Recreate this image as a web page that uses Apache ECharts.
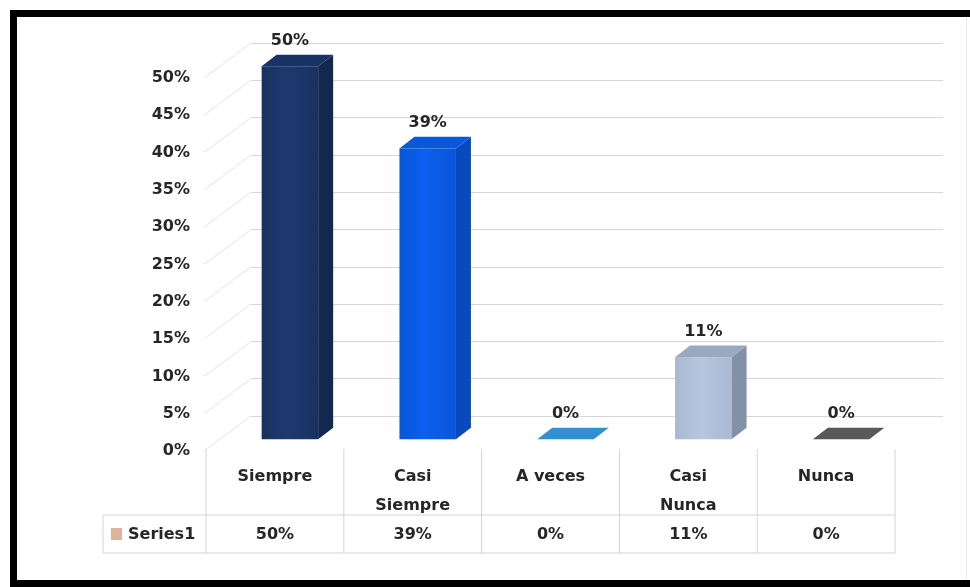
<!DOCTYPE html>
<html>
<head>
<meta charset="utf-8">
<script src="https://cdn.jsdelivr.net/npm/echarts@6/dist/echarts.min.js"></script>
<style>
  html, body { margin: 0; padding: 0; background: #fff; overflow: hidden; }
  #chart { width: 970px; height: 587px; }
</style>
</head>
<body>
<div id="chart"></div>
<script>
// Survey answer shares, in percent
const categories = ['Siempre', 'Casi\nSiempre', 'A veces', 'Casi\nNunca', 'Nunca'];
const values = [50, 39, 0, 11, 0];
const yTicks = [0, 5, 10, 15, 20, 25, 30, 35, 40, 45, 50];
const seriesName = 'Series1';

// Face colours of each 3D column
const frontColors = ['#1d3a70', '#0a60ef', '#3190d2', '#b6c6df', '#5a5a5a'];
const edgeColors  = ['#18315f', '#0955d8', '#3190d2', '#a9b9d2', '#5a5a5a'];
const sideColors  = ['#13284f', '#0849bd', '#2272aa', '#8391a8', '#404040'];
const topColors   = ['#1a3264', '#0b57da', '#3190d2', '#9aa9c0', '#595959'];

const FONT = 'bold 16px "DejaVu Sans"';
const TEXT = '#262626';
const DEPTH = [45, -35];       // offset from front plane to back wall
const BAR_RATIO = 0.41;        // bar width as share of the category band

function shade(mid, edge) {
  return { type: 'linear', x: 0, y: 0, x2: 1, y2: 0,
    colorStops: [{ offset: 0, color: edge }, { offset: 0.45, color: mid }, { offset: 1, color: edge }] };
}

function renderBar(params, api) {
  const i = api.value(0);
  const v = api.value(1);
  const base = api.coord([i, 0]);
  const top = api.coord([i, v]);
  const w = api.size([1, 0])[0] * BAR_RATIO;
  const fx = DEPTH[0] / 3, fy = DEPTH[1] / 3;
  const sx = DEPTH[0] / 3, sy = DEPTH[1] / 3;
  const cx = base[0] + fx;
  const x0 = cx - w / 2, x1 = cx + w / 2;
  const yb = base[1] + fy, yt = top[1] + fy;
  const children = [];
  if (yb - yt > 0.5) {
    children.push({
      type: 'rect', shape: { x: x0, y: yt, width: w, height: yb - yt },
      style: { fill: shade(frontColors[i], edgeColors[i]) }
    });
    children.push({
      type: 'polygon',
      shape: { points: [[x1, yt], [x1 + sx, yt + sy], [x1 + sx, yb + sy], [x1, yb]] },
      style: { fill: sideColors[i] }
    });
  }
  children.push({
    type: 'polygon',
    shape: { points: [[x0, yt], [x1, yt], [x1 + sx, yt + sy], [x0 + sx, yt + sy]] },
    style: { fill: topColors[i] }
  });
  children.push({
    type: 'text',
    style: { text: v + '%', x: cx, y: yt + sy - 14, align: 'center', verticalAlign: 'middle',
      font: FONT, fill: TEXT }
  });
  return { type: 'group', children: children };
}

// Receding lines of the left side wall, one per tick
function renderWall(params, api) {
  const v = api.value(0);
  const p = api.coord([0, v]);
  const x = params.coordSys.x;
  return {
    type: 'line',
    shape: { x1: x - 2, y1: p[1], x2: x + DEPTH[0], y2: p[1] + DEPTH[1] },
    style: { stroke: '#ececec', lineWidth: 1.2 }
  };
}

// Data table under the plot: one column per category
function renderTable(params, api) {
  const i = api.value(0);
  const v = api.value(1);
  const c = api.coord([i, 0]);
  const cw = api.size([1, 0])[0];
  const xl = c[0] - cw / 2, xr = c[0] + cw / 2;
  const yTop = c[1] - 2, yRow = c[1] + 64, yBot = c[1] + 102;
  const line = { stroke: '#d4d4d4', lineWidth: 1 };
  const children = [
    { type: 'line', shape: { x1: xl, y1: yTop, x2: xl, y2: yBot }, style: line },
    { type: 'line', shape: { x1: xl, y1: yRow, x2: xr, y2: yRow }, style: line },
    { type: 'line', shape: { x1: xl, y1: yBot, x2: xr, y2: yBot }, style: line },
    { type: 'text', style: { text: v + '%', x: c[0], y: (yRow + yBot) / 2 + 1, align: 'center',
      verticalAlign: 'middle', font: FONT, fill: TEXT } }
  ];
  if (i === values.length - 1) {
    children.push({ type: 'line', shape: { x1: xr, y1: yTop, x2: xr, y2: yBot }, style: line });
  }
  if (i === 0) {
    const hx = xl - 103;
    children.push(
      { type: 'line', shape: { x1: hx, y1: yRow, x2: xl, y2: yRow }, style: line },
      { type: 'line', shape: { x1: hx, y1: yBot, x2: xl, y2: yBot }, style: line },
      { type: 'line', shape: { x1: hx, y1: yRow, x2: hx, y2: yBot }, style: line },
      { type: 'rect', shape: { x: hx + 8, y: yRow + 13, width: 11, height: 12 }, style: { fill: '#dcb49c' } },
      { type: 'text', style: { text: seriesName, x: hx + 25, y: (yRow + yBot) / 2 + 1, align: 'left',
        verticalAlign: 'middle', font: FONT, fill: TEXT } }
    );
  }
  return { type: 'group', children: children };
}

const chart = echarts.init(document.getElementById('chart'));
chart.setOption({
  animation: false,
  backgroundColor: '#ffffff',
  grid: [
    { left: 206, top: 78, width: 689, height: 373 },
    { left: 206 + DEPTH[0], top: 78 + DEPTH[1], width: 692, height: 373 }
  ],
  xAxis: [
    {
      type: 'category', gridIndex: 0, data: categories,
      axisLine: { show: false }, axisTick: { show: false },
      axisLabel: { interval: 0, margin: 11, lineHeight: 29, color: TEXT,
        fontFamily: 'DejaVu Sans', fontWeight: 'bold', fontSize: 16 }
    },
    { type: 'value', gridIndex: 1, show: false, min: 0, max: 1 }
  ],
  yAxis: [
    {
      type: 'value', gridIndex: 0, min: 0, max: 50, interval: 5,
      axisLine: { show: false }, axisTick: { show: false }, splitLine: { show: false },
      axisLabel: { formatter: '{value}%', margin: 16, color: TEXT,
        fontFamily: 'DejaVu Sans', fontWeight: 'bold', fontSize: 16 }
    },
    {
      type: 'value', gridIndex: 1, min: 0, max: 50, interval: 5,
      axisLine: { show: false }, axisTick: { show: false }, axisLabel: { show: false },
      splitLine: { lineStyle: { color: '#d6d6d6', width: 1 } }
    }
  ],
  graphic: [
    { type: 'rect', shape: { x: 10, y: 10, width: 960, height: 7 }, style: { fill: '#000' } },
    { type: 'rect', shape: { x: 10, y: 10, width: 7, height: 577 }, style: { fill: '#000' } },
    { type: 'rect', shape: { x: 10, y: 580, width: 960, height: 7 }, style: { fill: '#000' } },
    { type: 'line', shape: { x1: 966.5, y1: 17, x2: 966.5, y2: 580 }, style: { stroke: '#e8e8e8', lineWidth: 1 } }
  ],
  series: [
    {
      type: 'custom', name: 'wall', xAxisIndex: 0, yAxisIndex: 0, silent: true,
      renderItem: renderWall, data: yTicks.map(t => [t]), encode: { y: 0 }
    },
    {
      type: 'custom', name: seriesName, xAxisIndex: 0, yAxisIndex: 0,
      renderItem: renderBar, data: values.map((v, i) => [i, v]), encode: { x: 0, y: 1 }
    },
    {
      type: 'custom', name: 'table', xAxisIndex: 0, yAxisIndex: 0, silent: true,
      renderItem: renderTable, data: values.map((v, i) => [i, v]), encode: { x: 0, y: 1 }
    }
  ]
});
</script>
</body>
</html>
